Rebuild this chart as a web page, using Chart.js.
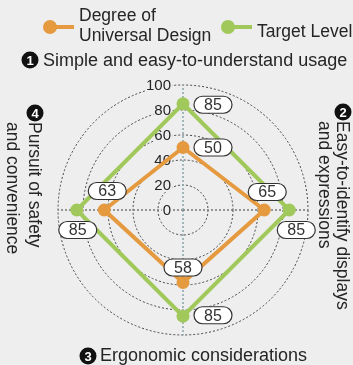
<!DOCTYPE html>
<html>
<head>
<meta charset="utf-8">
<script src="https://cdn.jsdelivr.net/npm/chart.js@4.4.0/dist/chart.umd.min.js"></script>
<style>
  html, body { margin: 0; padding: 0; background: #eeeeee; }
  canvas { display: block; }
</style>
</head>
<body>
<canvas id="radar" width="353" height="365"></canvas>
<script>
// ---- data ----
const categories = [
  ['Simple and easy-to-understand usage'],
  ['Easy-to-identify displays', 'and expressions'],
  ['Ergonomic considerations'],
  ['Pursuit of safety', 'and convenience']
];
const categoryNumbers = ['1', '2', '3', '4'];
const seriesNames = [['Degree of', 'Universal Design'], ['Target Level']];
const universalDesign = [50, 65, 58, 63];
const targetLevel = [85, 85, 85, 85];
const tickValues = [0, 20, 40, 60, 80, 100];

// ---- look ----
const ORANGE = '#e59a3f';
const GREEN = '#a0c85a';
const TEXT = '#252525';
const BG = '#eeeeee';
const FONT = '"Liberation Sans", Arial, sans-serif';

// pill offsets from each point [dx, dy]
const pillOffsets = [
  [[30, 0], [3, -18], [0, -15], [3, -19]],
  [[30, 1], [7, 20], [30, -1], [1, 20]]
];

function circledNumber(ctx, x, y, n) {
  ctx.save();
  ctx.beginPath();
  ctx.arc(x, y, 8.5, 0, Math.PI * 2);
  ctx.fillStyle = '#111';
  ctx.fill();
  ctx.fillStyle = '#fff';
  ctx.font = 'bold 13px ' + FONT;
  ctx.textAlign = 'center';
  ctx.textBaseline = 'middle';
  ctx.fillText(n, x, y + 1);
  ctx.restore();
}

function vText(ctx, text, x, y) {
  ctx.save();
  ctx.translate(x, y);
  ctx.rotate(Math.PI / 2);
  ctx.textAlign = 'left';
  ctx.textBaseline = 'alphabetic';
  ctx.fillText(text, 0, 0);
  ctx.restore();
}

function pill(ctx, cx, cy, text) {
  const w = 38, h = 17;
  ctx.save();
  ctx.beginPath();
  ctx.roundRect(cx - w / 2, cy - h / 2, w, h, h / 2);
  ctx.fillStyle = '#fff';
  ctx.fill();
  ctx.lineWidth = 1.2;
  ctx.strokeStyle = '#333';
  ctx.stroke();
  ctx.fillStyle = '#333';
  ctx.font = '16px ' + FONT;
  ctx.textAlign = 'center';
  ctx.textBaseline = 'middle';
  ctx.fillText(text, cx, cy + 1);
  ctx.restore();
}

// tick labels to the left of the vertical axis
const tickPlugin = {
  id: 'tickLabels',
  beforeDatasetsDraw(chart) {
    const s = chart.scales.r;
    const ctx = chart.ctx;
    ctx.save();
    ctx.font = '15px ' + FONT;
    ctx.textAlign = 'right';
    ctx.textBaseline = 'middle';
    s.ticks.forEach(t => {
      const y = s.yCenter - s.getDistanceFromCenterForValue(t.value);
      const label = String(t.value);
      const w = ctx.measureText(label).width;
      const x = s.xCenter - 12;
      ctx.fillStyle = BG;
      ctx.fillRect(x - w - 1, y - 7, w + 2, 14);
      ctx.fillStyle = TEXT;
      ctx.fillText(label, x, y + 1);
    });
    ctx.restore();
  }
};

// value pills next to points
const pillPlugin = {
  id: 'valuePills',
  afterDatasetsDraw(chart) {
    const ctx = chart.ctx;
    chart.data.datasets.forEach((ds, di) => {
      const meta = chart.getDatasetMeta(di);
      meta.data.forEach((pt, i) => {
        const [dx, dy] = pillOffsets[di][i];
        pill(ctx, pt.x + dx, pt.y + dy, String(ds.data[i]));
      });
    });
  }
};

// legend, axis titles
const textPlugin = {
  id: 'texts',
  afterDraw(chart) {
    const s = chart.scales.r;
    const ctx = chart.ctx;
    const xC = s.xCenter, yC = s.yCenter;
    ctx.save();
    ctx.fillStyle = TEXT;
    ctx.textAlign = 'left';
    ctx.textBaseline = 'alphabetic';

    // legend
    ctx.font = '17.5px ' + FONT;
    const legendItems = [
      { color: ORANGE, x: 50, names: seriesNames[0], baselines: [21, 41] },
      { color: GREEN, x: 228, names: seriesNames[1], baselines: [37] }
    ];
    legendItems.forEach(item => {
      ctx.strokeStyle = item.color;
      ctx.lineWidth = 4;
      ctx.beginPath();
      ctx.moveTo(item.x, 27);
      ctx.lineTo(item.x + 24, 27);
      ctx.stroke();
      ctx.beginPath();
      ctx.arc(item.x, 27, 7, 0, Math.PI * 2);
      ctx.fillStyle = item.color;
      ctx.fill();
      ctx.fillStyle = TEXT;
      item.names.forEach((n, k) => ctx.fillText(n, item.x + 29, item.baselines[k]));
    });

    // top
    ctx.font = '18px ' + FONT;
    circledNumber(ctx, xC - 153, yC - 150, categoryNumbers[0]);
    ctx.fillText(categories[0][0], xC - 140, yC - 144);
    // bottom
    circledNumber(ctx, xC - 95, yC + 146, categoryNumbers[2]);
    ctx.fillText(categories[2][0], xC - 83, yC + 151);
    // right (rotated)
    ctx.font = '17.5px ' + FONT;
    circledNumber(ctx, xC + 160, yC - 98, categoryNumbers[1]);
    vText(ctx, categories[1][0], xC + 154, yC - 89);
    vText(ctx, categories[1][1], xC + 136, yC - 89);
    // left (rotated)
    circledNumber(ctx, xC - 148, yC - 97, categoryNumbers[3]);
    vText(ctx, categories[3][0], xC - 154, yC - 88);
    vText(ctx, categories[3][1], xC - 176, yC - 88);
    ctx.restore();
  }
};

new Chart(document.getElementById('radar'), {
  type: 'radar',
  data: {
    labels: categories.map(c => c.join(' ')),
    datasets: [
      {
        label: seriesNames[0].join(' '),
        data: universalDesign,
        borderColor: ORANGE,
        backgroundColor: 'rgba(0,0,0,0)',
        borderWidth: 4,
        pointRadius: 6.5,
        pointBorderWidth: 0,
        pointBackgroundColor: ORANGE,
        fill: false
      },
      {
        label: seriesNames[1].join(' '),
        data: targetLevel,
        borderColor: GREEN,
        backgroundColor: 'rgba(0,0,0,0)',
        borderWidth: 4,
        pointRadius: 6.5,
        pointBorderWidth: 0,
        pointBackgroundColor: GREEN,
        fill: false
      }
    ]
  },
  options: {
    responsive: false,
    animation: false,
    layout: { padding: { left: 58, right: 45, top: 85, bottom: 30 } },
    plugins: {
      legend: { display: false },
      tooltip: { enabled: false }
    },
    scales: {
      r: {
        min: 0,
        max: 100,
        afterBuildTicks: scale => { scale.ticks = tickValues.map(v => ({ value: v })); },
        ticks: { display: false },
        pointLabels: { display: false },
        grid: {
          circular: true,
          color: '#444',
          lineWidth: 1
        },
        border: { dash: [2, 2] },
        angleLines: {
          color: ctx => (ctx.index % 2 === 0 ? '#86a7a9' : '#777'),
          lineWidth: 1.5,
          borderDash: [2, 2]
        }
      }
    }
  },
  plugins: [tickPlugin, pillPlugin, textPlugin]
});
</script>
</body>
</html>
